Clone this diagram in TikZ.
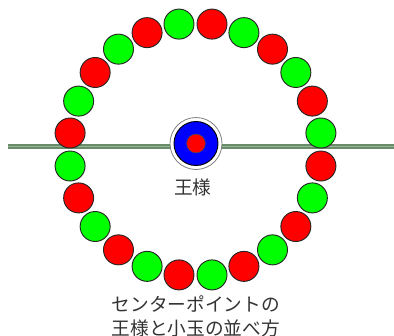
\documentclass[tikz,border=0pt]{standalone}
\usepackage{fontspec}
\setmainfont{Noto Sans CJK JP}
\usepackage{tikz}
\usetikzlibrary{positioning, calc}
\definecolor{railedge}{RGB}{105,140,105}
\definecolor{railmid}{RGB}{150,180,150}
\definecolor{textgray}{RGB}{51,51,51}

\begin{document}
\begin{tikzpicture}[x=0.75pt, y=-0.75pt,
    ball/.style={circle, draw=black!85, line width=0.7pt, minimum size=22.5pt, inner sep=0pt},
    redball/.style={ball, fill=red},
    greenball/.style={ball, fill=green},
    label/.style={text=textgray, font=\fontsize{14}{18}\selectfont}]
    \useasboundingbox (0,0) rectangle (394,336);
    \coordinate (ring) at (195.5,149.5);
    \coordinate (railL) at (8,146.5);
    \coordinate (railR) at (394,146.5);
    \draw[railedge, line width=3.2pt] (railL) -- (railR);
    \draw[railmid, line width=1.2pt] (railL) -- (railR);
    \foreach \i in {0,...,23} {
        \pgfmathsetmacro{\ang}{-7.5-15*\i}
        \ifodd\i
            \node[redball] (ball\i) at ($(ring)+(\ang:126.5)$) {};
        \else
            \node[greenball] (ball\i) at ($(ring)+(\ang:126.5)$) {};
        \fi
    }
    \node[circle, draw=gray, fill=white, line width=0.6pt, minimum size=39pt, inner sep=0pt] (king) at (196,143.5) {};
    \node[circle, draw=black, fill=blue, line width=0.7pt, minimum size=33pt, inner sep=0pt] (kingbody) at (king) {};
    \node[circle, draw=black!70, fill=red, line width=0.4pt, minimum size=14pt, inner sep=0pt] (kingcore) at (king) {};
    \node[label] (kingname) at (193,187) {王様};
    \node[label, align=center] (caption) at (196,316.5) {センターポイントの\\王様と小玉の並べ方};
\end{tikzpicture}
\end{document}
